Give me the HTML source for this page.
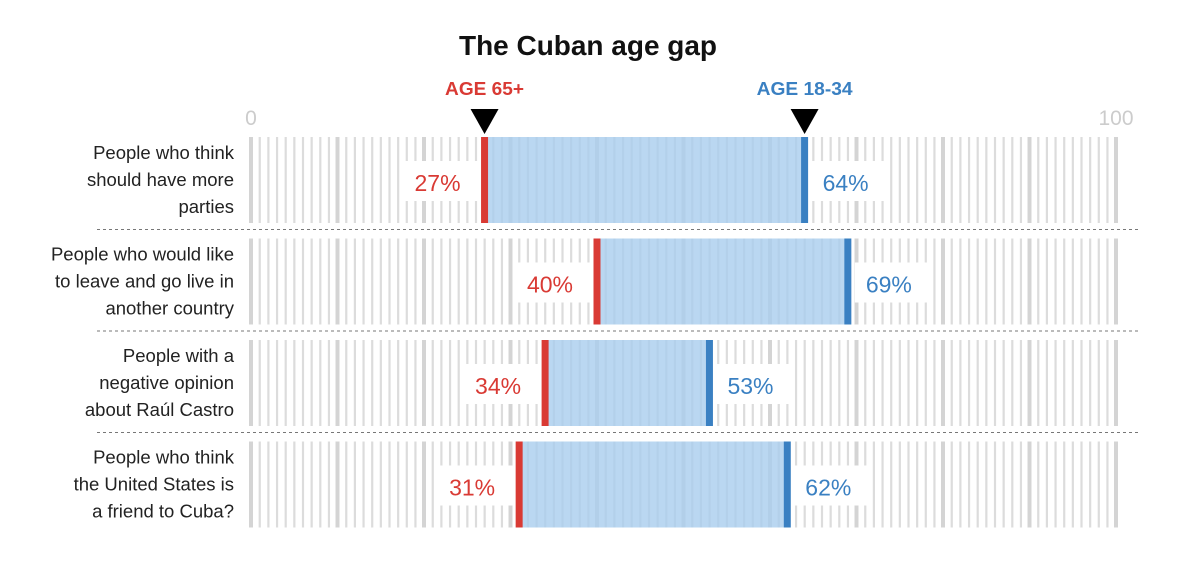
<!DOCTYPE html>
<html><head><meta charset="utf-8"><style>
body{margin:0;background:#fff;font-family:"Liberation Sans",sans-serif}
</style></head><body>
<svg id="c" width="1200" height="574" xmlns="http://www.w3.org/2000/svg" font-family="Liberation Sans, sans-serif"></svg>
<script>
const categories=[["People who think","should have more","parties"],["People who would like","to leave and go live in","another country"],["People with a","negative opinion","about Raúl Castro"],["People who think","the United States is","a friend to Cuba?"]];
const older=[27,40,34,31];
const younger=[64,69,53,62];
const axisTicks=[0,100];
const NS="http://www.w3.org/2000/svg";
const svg=document.getElementById('c');
const x=v=>251+v*8.65;
const rowTop=i=>137+i*101.5, rowH=86;
function el(t,a,p){const e=document.createElementNS(NS,t);for(const k in a)e.setAttribute(k,a[k]);(p||svg).appendChild(e);return e;}
let t=el('text',{x:588,y:55,'text-anchor':'middle','font-size':28,'font-weight':'bold',fill:'#111',textLength:258,lengthAdjust:'spacingAndGlyphs'});t.textContent='The Cuban age gap';


axisTicks.forEach(v=>{const a=el('text',{x:x(v),y:125,'text-anchor':'middle','font-size':21,fill:'#ccc'});a.textContent=v;

});
[[older[0],'AGE 65+','#d93a34',79],[younger[0],'AGE 18-34','#3a80c2',96]].forEach(([v,l,c,w],k)=>{
 const g=el('g',{});
 
 
 const tx=el('text',{x:x(v),y:95,'text-anchor':'middle','font-size':18,'font-weight':'bold',fill:c,textLength:w,lengthAdjust:'spacingAndGlyphs'},g);tx.textContent=l;
 el('polygon',{points:`${x(v)-14},109 ${x(v)+14},109 ${x(v)},134`,fill:'#000'},g);
});
categories.forEach((cat,i)=>{
 const g=el('g',{});
 
 
 const y0=rowTop(i);
 for(let v=0;v<=100;v++){el('rect',{x:x(v)-(v%10==0?2:1),y:y0,width:v%10==0?4:2.2,height:rowH,fill:v%10==0?'#d4d4d4':'#dcdcdc'},g);}
 const lo=older[i],hi=younger[i];
 const band=el('rect',{x:x(lo),y:y0,width:x(hi)-x(lo),height:rowH,fill:'#a9cdee',opacity:0.8},g);
 
 
 const rb=el('rect',{x:x(lo)-3.5,y:y0,width:7,height:rowH,fill:'#d93a34'},g);
 
 
 const bb=el('rect',{x:x(hi)-3.5,y:y0,width:7,height:rowH,fill:'#3a80c2'},g);
 
 
 el('rect',{x:x(lo)-80,y:y0+24,width:74,height:40,fill:'#fff'},g);
 el('rect',{x:x(hi)+7,y:y0+24,width:74,height:40,fill:'#fff'},g);
 const l1=el('text',{x:x(lo)-24,y:y0+54,'text-anchor':'end','font-size':23,fill:'#d93a34'},g);l1.textContent=lo+'%';
 
 
 const l2=el('text',{x:x(hi)+18,y:y0+54,'font-size':23,fill:'#3a80c2'},g);l2.textContent=hi+'%';
 
 
 cat.forEach((s,j)=>{const c=el('text',{x:234,y:y0+22+j*27,'text-anchor':'end','font-size':18.5,fill:'#222'},g);c.textContent=s;
 
 });
 if(i<3){const d=el('line',{x1:97,x2:1140,y1:y0+rowH+6.5,y2:y0+rowH+6.5,stroke:'#777','stroke-dasharray':'3,3','stroke-width':1},g);
 
 }
});
</script>
</body></html>
